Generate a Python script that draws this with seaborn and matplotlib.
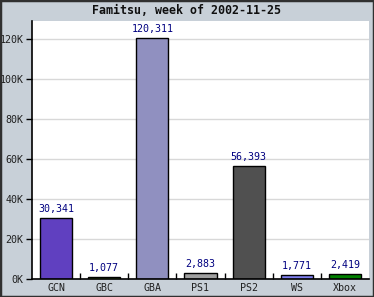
import matplotlib
matplotlib.use("Agg")
import matplotlib.pyplot as plt
import seaborn as sns
import pandas as pd
from matplotlib.ticker import FuncFormatter, FixedLocator
from matplotlib.patches import Rectangle

platforms = ["GCN", "GBC", "GBA", "PS1", "PS2", "WS", "Xbox"]
sales = [30341, 1077, 120311, 2883, 56393, 1771, 2419]
colors = ["#6040c0", "#80d030", "#9090c0", "#a0a0a0", "#505050", "#8080f0", "#008000"]
title = "Famitsu, week of 2002-11-25"

df = pd.DataFrame({"platform": platforms, "sales": sales})

sns.set_theme(style="white")
plt.rcParams["font.family"] = ["DejaVu Sans Mono", "DejaVu Sans"]

bg = "#c8d0d8"
fig = plt.figure(figsize=(3.74, 2.97), dpi=100, facecolor=bg)
ax = fig.add_axes([32/374, 18/297, 337/374, 258/297])
ax.set_facecolor("white")

sns.barplot(data=df, x="platform", y="sales", hue="platform", palette=colors,
            legend=False, width=0.667, edgecolor="black", linewidth=1.0,
            saturation=1, ax=ax)

ax.set_ylim(0, 129000)
ax.set_xlim(-0.5, len(platforms) - 0.5)
ax.set_yticks(range(0, 120001, 20000))
ax.yaxis.set_major_formatter(FuncFormatter(lambda v, p: f"{int(v/1000)}K"))
ax.grid(axis="y", color="#d8d8d8", linewidth=1)
ax.set_axisbelow(True)
ax.set_xlabel("")
ax.set_ylabel("")

for s in ["top", "right"]:
    ax.spines[s].set_visible(False)
for s in ["left", "bottom"]:
    ax.spines[s].set_color("black")
    ax.spines[s].set_linewidth(1.2)

ax.tick_params(axis="y", direction="out", length=4, width=1, color="black",
               labelsize=7.2, pad=2, labelcolor="#202020", left=True)
ax.tick_params(axis="x", which="major", length=0, labelsize=7.2, pad=3, labelcolor="#202020")
ax.xaxis.set_minor_locator(FixedLocator([i + 0.5 for i in range(len(platforms) - 1)]))
ax.tick_params(axis="x", which="minor", direction="in", length=4, width=1,
               color="black", bottom=True)

for i, v in enumerate(sales):
    ax.annotate(f"{v:,}", (i, v), xytext=(0, 3), textcoords="offset points",
                ha="center", va="bottom", fontsize=7.2, color="#000080")

fig.text(0.5, 1 - 11/297, title, ha="center", va="center",
         fontsize=8.4, fontweight="bold", color="#101010")

fig.patches.append(Rectangle((0, 0), 1, 1, transform=fig.transFigure,
                             fill=False, edgecolor="#303030", linewidth=2.5))

fig.savefig("out.png", dpi=100, facecolor=bg)
